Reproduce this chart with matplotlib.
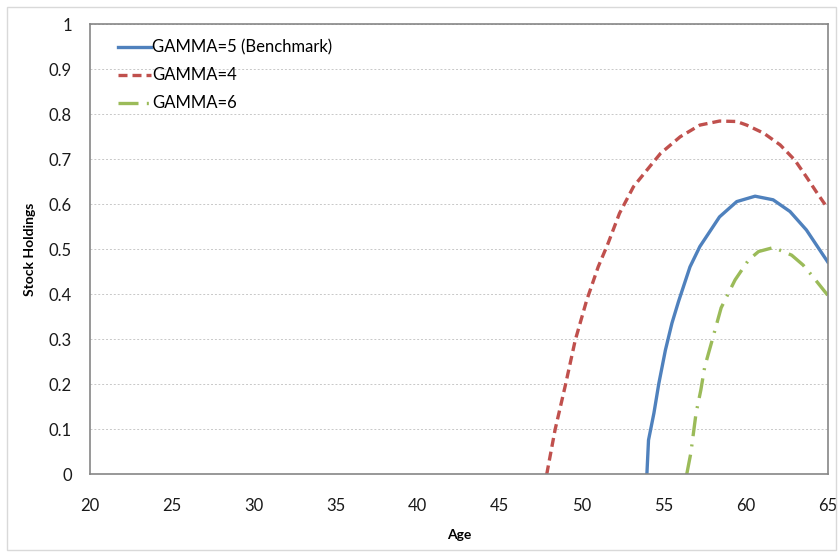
import matplotlib.pyplot as plt
from matplotlib.patches import Rectangle

# values
age_g4 = [47.86, 48.37, 48.98, 49.6, 50.3, 51.0, 51.6, 52.3, 53.15, 53.97, 54.8, 56.0,
          57.2, 58.4, 59.45, 60.06, 61.1, 62.1, 63.0, 63.7, 64.3, 65.0]
hold_g4 = [0.0, 0.099, 0.195, 0.298, 0.387, 0.461, 0.513, 0.58, 0.639, 0.676, 0.713, 0.75,
           0.776, 0.785, 0.784, 0.776, 0.758, 0.732, 0.698, 0.661, 0.628, 0.591]

age_g5 = [53.97, 54.07, 54.4, 54.7, 55.1, 55.5, 55.9, 56.6, 57.2, 58.4, 59.45, 60.57,
          61.67, 62.7, 63.7, 65.0]
hold_g5 = [0.0, 0.076, 0.136, 0.202, 0.276, 0.336, 0.384, 0.461, 0.506, 0.572, 0.606, 0.618,
           0.61, 0.584, 0.543, 0.472]

age_g6 = [56.4, 56.65, 56.97, 57.26, 57.5, 57.93, 58.5, 59.35, 60.17, 60.78, 61.7, 62.8,
          63.5, 64.1, 65.0]
hold_g6 = [0.0, 0.047, 0.136, 0.187, 0.239, 0.295, 0.37, 0.432, 0.476, 0.495, 0.504, 0.487,
           0.465, 0.439, 0.398]

xticks = [20, 25, 30, 35, 40, 45, 50, 55, 60, 65]
yticks = [0, 0.1, 0.2, 0.3, 0.4, 0.5, 0.6, 0.7, 0.8, 0.9, 1]
ytick_labels = ["0", "0.1", "0.2", "0.3", "0.4", "0.5", "0.6", "0.7", "0.8", "0.9", "1"]

plt.rcParams['font.family'] = ['Lato', 'DejaVu Sans']

fig = plt.figure(figsize=(8.38, 5.53), dpi=100)
ax = fig.add_axes([90 / 838, 1 - 474.3 / 553, 737.7 / 838, 450 / 553])

ax.plot(age_g5, hold_g5, color='#4F81BD', lw=2.4, label='GAMMA=5 (Benchmark)')
ax.plot(age_g4, hold_g4, color='#C0504D', lw=2.4, ls=(0, (2.7, 1.5)), label='GAMMA=4')
ax.plot(age_g6, hold_g6, color='#9BBB59', lw=2.4, ls=(0, (6, 2.5, 0.6, 2.5)), label='GAMMA=6')

ax.set_xlim(20, 65)
ax.set_ylim(0, 1)
ax.set_xticks(xticks)
ax.set_yticks(yticks)
ax.set_yticklabels(ytick_labels)
ax.tick_params(length=0, labelsize=12, colors='#1a1a1a')
ax.tick_params(axis='y', pad=13)
ax.tick_params(axis='x', pad=17)
ax.grid(axis='y', color='#c8c8c8', ls=(0, (2, 2)), lw=0.7)
ax.set_axisbelow(True)
for s in ax.spines.values():
    s.set_color('#868686')
    s.set_linewidth(1.2)

ax.set_xlabel('Age', fontsize=10, fontweight='bold', labelpad=11)
ax.set_ylabel('Stock Holdings', fontsize=10, fontweight='bold', labelpad=9)

ax.legend(loc='upper left', frameon=False, fontsize=12, handlelength=1.95,
          handletextpad=0.1, labelspacing=0.72, bbox_to_anchor=(0.018, 1.0))

fig.patches.append(Rectangle((7 / 838, 3 / 553), 829 / 838, 543 / 553, transform=fig.transFigure,
                             fill=False, edgecolor='#d9d9d9', lw=1))

fig.savefig('out.png', dpi=100)
